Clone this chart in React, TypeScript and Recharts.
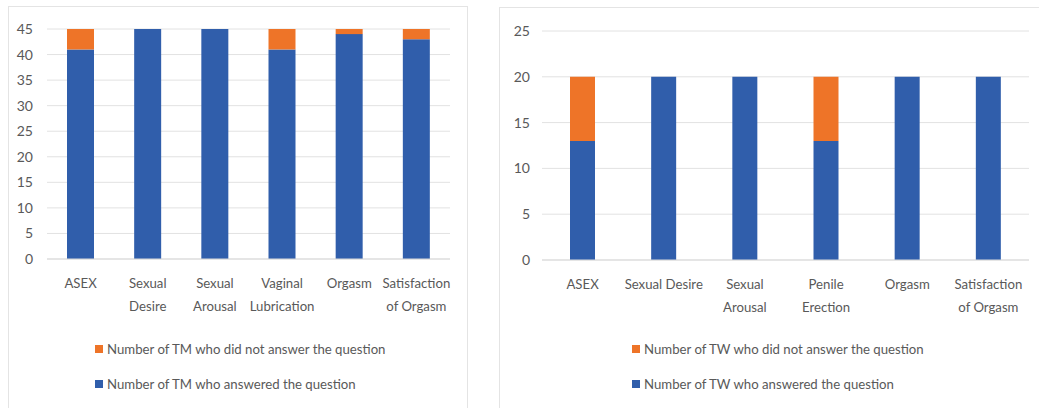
import { Bar, BarChart, CartesianGrid, Legend, XAxis, YAxis } from 'recharts';

const BLUE = '#305eab';
const ORANGE = '#ee7428';
const TEXT = '#595959';
const FONT = 'Lato, "Liberation Sans", sans-serif';

// left panel: TM
const tmCategories = ['ASEX', 'Sexual\nDesire', 'Sexual\nArousal', 'Vaginal\nLubrication', 'Orgasm', 'Satisfaction\nof Orgasm'];
const tmAnswered = [41, 45, 45, 41, 44, 43];
const tmNotAnswered = [4, 0, 0, 4, 1, 2];
const tmTicks = [0, 5, 10, 15, 20, 25, 30, 35, 40, 45];

// right panel: TW
const twCategories = ['ASEX', 'Sexual Desire', 'Sexual\nArousal', 'Penile\nErection', 'Orgasm', 'Satisfaction\nof Orgasm'];
const twAnswered = [13, 20, 20, 13, 20, 20];
const twNotAnswered = [7, 0, 0, 7, 0, 0];
const twTicks = [0, 5, 10, 15, 20, 25];

function CategoryTick({ x, y, payload }: any) {
  const lines = String(payload.value).split('\n');
  return (
    <text x={x} y={y} textAnchor="middle" fill={TEXT} fontSize={13.2} fontFamily={FONT}>
      {lines.map((l, i) => (
        <tspan key={i} x={x} dy={i === 0 ? 21 : 23}>
          {l}
        </tspan>
      ))}
    </text>
  );
}

function legendContent(group: string, left: number) {
  const items = [
    { color: ORANGE, label: `Number of ${group} who did not answer the question` },
    { color: BLUE, label: `Number of ${group} who answered the question` },
  ];
  return () => (
    <div style={{ position: 'relative', paddingLeft: left, fontFamily: FONT, fontSize: 13.2, color: TEXT }}>
      {items.map((it) => (
        <div key={it.label} style={{ display: 'flex', alignItems: 'center', height: 35, whiteSpace: 'nowrap' }}>
          <span style={{ width: 8, height: 8, background: it.color, marginRight: 4, display: 'inline-block' }} />
          {it.label}
        </div>
      ))}
    </div>
  );
}

interface PanelProps {
  group: string;
  categories: string[];
  answered: number[];
  notAnswered: number[];
  ticks: number[];
  width: number;
  top: number;
  right: number;
  yWidth: number;
  yMargin: number;
  barSize: number;
  legendLeft: number;
  legendTop: number;
}

function Panel(p: PanelProps) {
  const data = p.categories.map((c, i) => ({ cat: c, answered: p.answered[i], notAnswered: p.notAnswered[i] }));
  return (
    <BarChart
      width={p.width}
      height={410}
      data={data}
      margin={{ top: p.top, right: p.right, bottom: 0, left: 0 }}
      barCategoryGap={0}
    >
      <CartesianGrid vertical={false} stroke="#e2e2e2" />
      <XAxis
        dataKey="cat"
        interval={0}
        height={158}
        tickLine={false}
        axisLine={{ stroke: '#d9d9d9' }}
        tick={<CategoryTick />}
      />
      <YAxis
        width={p.yWidth}
        domain={[0, p.ticks[p.ticks.length - 1]]}
        ticks={p.ticks}
        tickLine={false}
        axisLine={false}
        tickMargin={p.yMargin}
        tick={{ fill: TEXT, fontSize: 14, fontFamily: FONT }}
      />
      <Bar dataKey="answered" stackId="a" fill={BLUE} barSize={p.barSize} isAnimationActive={false} />
      <Bar dataKey="notAnswered" stackId="a" fill={ORANGE} barSize={p.barSize} isAnimationActive={false} />
      <Legend
        layout="vertical"
        align="center"
        verticalAlign="middle"
        content={legendContent(p.group, p.legendLeft)}
        wrapperStyle={{ top: p.legendTop, left: 0, width: p.width }}
      />
    </BarChart>
  );
}

export default function App() {
  return (
    <div style={{ position: 'absolute', left: 0, top: 0, width: 1039, height: 408, overflow: 'hidden', background: '#fff' }}>
      <div style={{ position: 'absolute', left: 8, top: 6, width: 458, height: 420, border: '1px solid #e4e4e4' }}>
        <Panel
          group="TM"
          categories={tmCategories}
          answered={tmAnswered}
          notAnswered={tmNotAnswered}
          ticks={tmTicks}
          width={458}
          top={22}
          right={17}
          yWidth={38}
          yMargin={8}
          barSize={27}
          legendLeft={86}
          legendTop={324}
        />
      </div>
      <div style={{ position: 'absolute', left: 499, top: 7, width: 580, height: 420, border: '1px solid #e4e4e4' }}>
        <Panel
          group="TW"
          categories={twCategories}
          answered={twAnswered}
          notAnswered={twNotAnswered}
          ticks={twTicks}
          width={560}
          top={23}
          right={31}
          yWidth={42}
          yMargin={6}
          barSize={25}
          legendLeft={132}
          legendTop={323}
        />
      </div>
    </div>
  );
}
